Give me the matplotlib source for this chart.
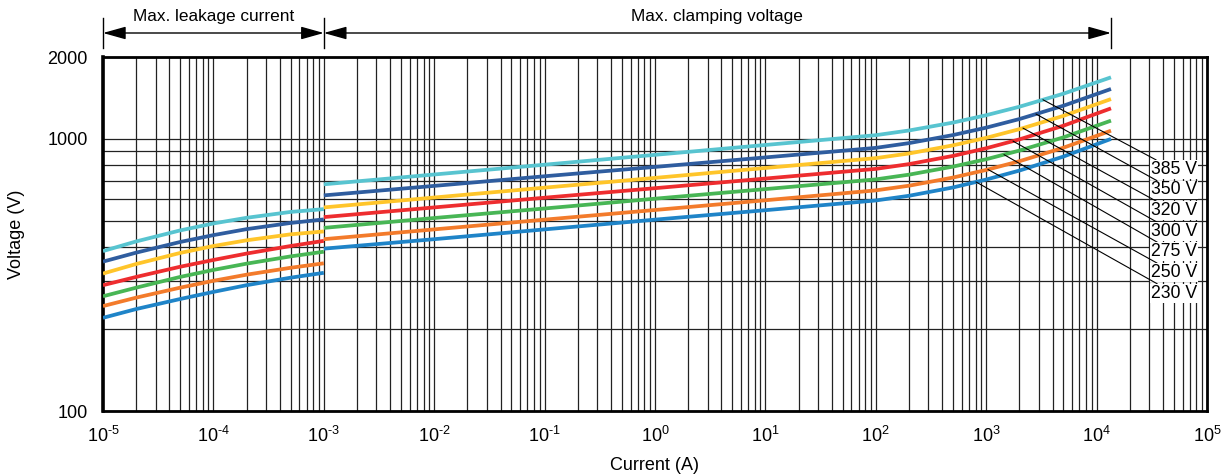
import numpy as np
import matplotlib
matplotlib.use("Agg")
import matplotlib.pyplot as plt
import matplotlib.transforms as mtransforms
from matplotlib.ticker import LogLocator, NullFormatter, FixedLocator, FixedFormatter

plt.rcParams['font.family'] = ['Liberation Sans', 'DejaVu Sans']
plt.rcParams['mathtext.fontset'] = 'custom'
plt.rcParams['mathtext.rm'] = 'Liberation Sans'
plt.rcParams['mathtext.it'] = 'Liberation Sans'
plt.rcParams['axes.unicode_minus'] = False

# ---------------- data ----------------
series_labels = ["385 V", "350 V", "320 V", "300 V", "275 V", "250 V", "230 V"]

leak_current = [1e-5, 2e-5, 5e-5, 1e-4, 2e-4, 5e-4, 1e-3]
leak_385 = [387, 420, 461, 489, 513, 539, 552]
leak_350 = [354, 382, 418, 443, 466, 491, 506]
leak_320 = [320, 347, 381, 404, 424, 446, 457]
leak_300 = [290, 311, 339, 359, 379, 404, 422]
leak_275 = [264, 284, 311, 330, 348, 370, 385]
leak_250 = [243, 261, 284, 301, 317, 336, 349]
leak_230 = [220, 237, 258, 274, 290, 309, 322]

clamp_current = [1e-3, 1e-2, 1e-1, 1, 10, 100, 200, 500, 1000, 2000, 5000, 1.35e4]
clamp_385 = [681, 740, 804, 874, 950, 1032, 1074, 1148, 1222, 1313, 1466, 1684]
clamp_350 = [620, 672, 729, 789, 855, 927, 965, 1033, 1100, 1183, 1324, 1526]
clamp_320 = [560, 609, 662, 719, 782, 850, 884, 947, 1009, 1086, 1215, 1401]
clamp_300 = [516, 560, 608, 659, 715, 776, 808, 866, 924, 996, 1118, 1295]
clamp_275 = [471, 512, 555, 603, 654, 710, 739, 791, 842, 906, 1013, 1167]
clamp_250 = [428, 465, 505, 548, 595, 647, 673, 721, 769, 828, 928, 1072]
clamp_230 = [395, 428, 465, 505, 547, 594, 618, 663, 709, 765, 861, 1000]

x_tick_values = [10.0 ** k for k in range(-5, 6)]
x_tick_exponents = [str(k).replace('-', '\u2010') for k in range(-5, 6)]
y_tick_values = [100, 1000, 2000]
y_tick_labels = ["100", "1000", "2000"]

leak_series = [leak_385, leak_350, leak_320, leak_300, leak_275, leak_250, leak_230]
clamp_series = [clamp_385, clamp_350, clamp_320, clamp_300, clamp_275, clamp_250, clamp_230]

# ---------------- style / layout ----------------
colors = ["#58C4D0", "#2F5D9F", "#FFC52A", "#EE2D2F", "#48B655", "#F37B2B", "#1F84C8"]
label_tip_current = [3266, 2825, 2153, 1749, 1449, 1038, 809]
label_text_y = [773, 649, 544, 456, 385, 323, 271]
label_text_x = 3.1e4

W, H = 1226, 476
fig = plt.figure(figsize=(W / 100, H / 100), dpi=100)
ax = fig.add_axes([103 / W, 1 - 411 / H, (1207 - 103) / W, (411 - 57) / H])
ax.set_xscale('log')
ax.set_yscale('log')
ax.set_xlim(1e-5, 1e5)
ax.set_ylim(100, 2000)

ax.xaxis.set_major_locator(FixedLocator(x_tick_values))
ax.xaxis.set_major_formatter(FixedFormatter(
    [r'$\mathregular{10^{%s}}$' % e for e in x_tick_exponents]))
ax.xaxis.set_minor_locator(LogLocator(base=10, subs=np.arange(2, 10), numticks=100))
ax.xaxis.set_minor_formatter(NullFormatter())
ax.yaxis.set_major_locator(FixedLocator(y_tick_values))
ax.yaxis.set_major_formatter(FixedFormatter(y_tick_labels))
ax.yaxis.set_minor_locator(LogLocator(base=10, subs=np.arange(2, 10), numticks=100))
ax.yaxis.set_minor_formatter(NullFormatter())

ax.grid(which='both', color='#222222', lw=0.9)
ax.set_axisbelow(True)
ax.tick_params(which='both', length=0)
ax.tick_params(axis='y', pad=11, labelsize=13)
ax.tick_params(axis='x', pad=11, labelsize=13)
for s in ax.spines.values():
    s.set_linewidth(2.0)
    s.set_color('black')
ax.spines['left'].set_linewidth(2.6)

for lv, cv, c in zip(leak_series, clamp_series, colors):
    ax.plot(leak_current, lv, color=c, lw=2.7, solid_capstyle='butt',
            solid_joinstyle='round', zorder=3)
    ax.plot(clamp_current, cv, color=c, lw=2.7, solid_capstyle='butt',
            solid_joinstyle='round', zorder=3)

for lab, cv, tipx, ty in zip(series_labels, clamp_series, label_tip_current, label_text_y):
    tipy = 10 ** np.interp(np.log10(tipx), np.log10(clamp_current), np.log10(cv))
    ax.annotate(lab, xy=(tipx, tipy), xytext=(label_text_x, ty),
                ha='left', va='center', fontsize=12.7, zorder=5,
                bbox=dict(fc='white', ec='none', pad=0.6),
                arrowprops=dict(arrowstyle='-', lw=0.8, color='black',
                                shrinkA=0, shrinkB=0))

ax.set_xlabel("Current (A)", fontsize=13, labelpad=8)
ax.set_ylabel("Voltage (V)", fontsize=13, labelpad=16)

# ---------------- top range annotations ----------------
trans = mtransforms.blended_transform_factory(ax.transData, fig.transFigure)
y_arrow = 1 - 33 / H
y_top = 1 - 18 / H
y_bot = 1 - 48 / H
bounds = [leak_current[0], leak_current[-1], clamp_current[-1]]
for bx in bounds:
    ax.plot([bx, bx], [y_top, y_bot], transform=trans, color='black', lw=1.0, clip_on=False)
for (x0, x1), txt in zip([(bounds[0], bounds[1]), (bounds[1], bounds[2])],
                         ["Max. leakage current", "Max. clamping voltage"]):
    ax.annotate("", xy=(x1, y_arrow), xytext=(x0, y_arrow), xycoords=trans, textcoords=trans,
                annotation_clip=False,
                arrowprops=dict(arrowstyle='<|-|>,head_length=1.0,head_width=0.28',
                                mutation_scale=14, color='black', lw=1.0,
                                shrinkA=0, shrinkB=0))
    xm = 10 ** ((np.log10(x0) + np.log10(x1)) / 2)
    ax.text(xm, 1 - 16 / H, txt, transform=trans, ha='center', va='center', fontsize=12.4)

fig.savefig("out.png", dpi=100)
